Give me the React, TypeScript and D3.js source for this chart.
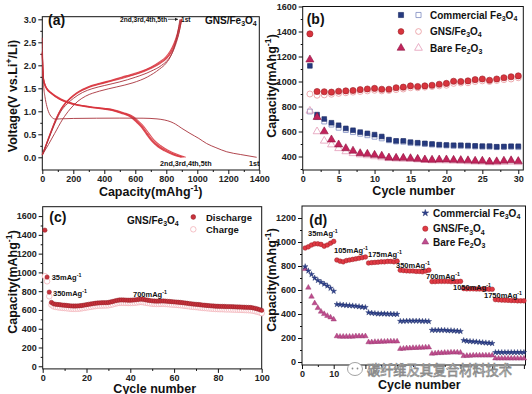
import React, {useEffect, useRef} from 'react';
import * as d3 from 'd3';

type Pt = [number, number];
type Part = [string, number?];
type G = d3.Selection<SVGGElement, unknown, null, undefined>;

const FONT = '"Liberation Sans", Arial, Helvetica, sans-serif';

// ---------- (a) voltage profiles, [capacity mAh/g, voltage V] ----------
const dis1st: Pt[] = [[0, 2.6], [2, 2.2], [5, 1.8], [10, 1.5], [17, 1.32], [30, 1.1], [50, 0.92], [65, 0.86], [82, 0.83], [110, 0.835], [200, 0.845], [350, 0.85], [500, 0.852], [650, 0.85], [740, 0.835], [790, 0.81], [830, 0.77], [860, 0.72], [900, 0.63], [953, 0.52], [1010, 0.41], [1060, 0.3], [1120, 0.21], [1190, 0.12], [1280, 0.06], [1383, 0.0]];
const dis2nd: Pt[] = [[0, 2.3], [3, 1.95], [8, 1.72], [15, 1.61], [30, 1.5], [60, 1.4], [115, 1.28], [200, 1.17], [310, 1.1], [400, 1.065], [460, 1.035], [520, 0.975], [590, 0.88], [622, 0.78], [655, 0.67], [688, 0.52], [720, 0.38], [765, 0.25], [808, 0.16], [865, 0.07], [925, 0.0]];
const dis3rd: Pt[] = [[0, 2.28], [3, 1.93], [8, 1.7], [15, 1.6], [30, 1.49], [60, 1.39], [113, 1.27], [198, 1.165], [305, 1.1], [395, 1.06], [455, 1.03], [515, 0.97], [585, 0.87], [616, 0.77], [648, 0.66], [680, 0.51], [712, 0.37], [756, 0.24], [800, 0.15], [855, 0.06], [912, 0.0]];
const dis4th: Pt[] = [[0, 2.26], [3, 1.92], [8, 1.69], [15, 1.59], [30, 1.48], [60, 1.385], [112, 1.265], [196, 1.16], [302, 1.095], [392, 1.055], [452, 1.025], [512, 0.965], [580, 0.865], [612, 0.765], [644, 0.655], [676, 0.505], [707, 0.365], [750, 0.235], [793, 0.145], [848, 0.06], [903, 0.0]];
const dis5th: Pt[] = [[0, 2.25], [3, 1.91], [8, 1.68], [15, 1.58], [30, 1.475], [60, 1.38], [110, 1.26], [195, 1.155], [300, 1.09], [390, 1.05], [450, 1.02], [508, 0.96], [576, 0.86], [608, 0.76], [640, 0.65], [672, 0.5], [703, 0.36], [745, 0.23], [788, 0.14], [842, 0.055], [896, 0.0]];
const chg1st: Pt[] = [[0, 0.05], [40, 0.28], [80, 0.52], [130, 0.82], [180, 1.05], [230, 1.22], [280, 1.33], [370, 1.44], [480, 1.53], [585, 1.62], [680, 1.75], [757, 1.92], [800, 2.05], [830, 2.21], [855, 2.44], [873, 2.7], [888, 3.0]];
const chg2nd: Pt[] = [[0, 0.06], [30, 0.3], [60, 0.56], [90, 0.8], [120, 1.0], [160, 1.16], [200, 1.28], [260, 1.41], [320, 1.49], [400, 1.56], [500, 1.64], [600, 1.74], [700, 1.87], [770, 2.0], [810, 2.12], [840, 2.28], [865, 2.5], [885, 2.75], [898, 3.0]];
const chg3rd: Pt[] = [[0, 0.05], [30, 0.31], [60, 0.58], [90, 0.83], [120, 1.03], [150, 1.17], [180, 1.27], [220, 1.38], [260, 1.46], [300, 1.52], [370, 1.59], [450, 1.66], [540, 1.74], [620, 1.82], [700, 1.93], [760, 2.04], [800, 2.14], [830, 2.27], [855, 2.44], [875, 2.64], [890, 2.84], [900, 3.0]];
const chg4th: Pt[] = [[0, 0.05], [30, 0.32], [60, 0.59], [90, 0.84], [120, 1.04], [150, 1.18], [180, 1.28], [220, 1.39], [260, 1.47], [300, 1.53], [370, 1.6], [450, 1.67], [540, 1.755], [620, 1.835], [700, 1.945], [760, 2.06], [800, 2.16], [828, 2.29], [852, 2.46], [872, 2.66], [887, 2.86], [897, 3.0]];
const chg5th: Pt[] = [[0, 0.05], [30, 0.33], [60, 0.6], [90, 0.85], [120, 1.05], [150, 1.19], [180, 1.29], [220, 1.4], [260, 1.48], [300, 1.54], [370, 1.61], [450, 1.68], [540, 1.77], [620, 1.85], [700, 1.96], [758, 2.08], [796, 2.18], [825, 2.31], [850, 2.48], [870, 2.68], [885, 2.88], [895, 3.0]];

// ---------- (b) cycling at 35 mA/g, cycles 1..30 ----------
const commDisB = [1125, 735, 700, 670, 650, 625, 610, 595, 585, 575, 560, 535, 525, 525, 515, 510, 505, 500, 495, 492, 490, 490, 488, 485, 483, 483, 478, 480, 482, 482];
const commChgB = [760, 715, 680, 655, 630, 612, 595, 582, 570, 558, 545, 530, 520, 518, 508, 505, 500, 495, 490, 488, 485, 485, 482, 480, 478, 478, 475, 476, 478, 475];
const gnsDisB = [1381, 920, 918, 915, 922, 925, 928, 935, 940, 945, 938, 938, 950, 955, 965, 960, 965, 970, 978, 985, 1002, 1000, 1005, 1015, 1020, 1010, 1020, 1030, 1038, 1045];
const gnsChgB = [900, 890, 893, 898, 905, 910, 915, 920, 925, 930, 925, 928, 935, 940, 950, 950, 955, 960, 965, 970, 985, 988, 990, 1000, 1005, 1000, 1008, 1015, 1020, 1030];
const bareDisB = [1175, 715, 600, 535, 495, 465, 445, 425, 420, 412, 405, 390, 388, 388, 385, 380, 375, 373, 375, 375, 372, 370, 368, 365, 365, 358, 360, 365, 368, 362];
const bareChgB = [765, 600, 525, 495, 465, 440, 425, 415, 408, 400, 392, 385, 382, 380, 378, 375, 370, 368, 368, 367, 365, 363, 360, 358, 357, 352, 352, 355, 357, 353];

// ---------- (c) long cycling, cycles 1..100 ----------
const disC = [
  1450, 950, 790, 680, 665, 660, 658, 655, 652, 650,
  648, 645, 643, 642, 642, 643, 645, 648, 652, 656,
  660, 664, 668, 671, 674, 676, 677, 678, 678, 680,
  685, 690, 697, 702, 706, 707, 706, 705, 704, 704,
  705, 707, 710, 713, 715, 712, 708, 704, 700, 697,
  695, 694, 694, 695, 696, 694, 692, 690, 688, 686,
  684, 682, 680, 677, 674, 671, 668, 665, 662, 660,
  658, 655, 652, 650, 648, 646, 644, 642, 640, 639,
  638, 638, 637, 636, 636, 635, 634, 633, 632, 631,
  630, 629, 628, 627, 626, 622, 617, 611, 604, 596,
];
const chgC = [
  960, 905, 745, 655, 638, 632, 628, 625, 622, 620,
  618, 615, 613, 612, 612, 613, 615, 618, 622, 626,
  630, 634, 638, 641, 644, 646, 647, 648, 648, 650,
  655, 660, 667, 672, 676, 677, 676, 675, 674, 674,
  675, 677, 680, 683, 685, 682, 678, 674, 670, 667,
  665, 664, 664, 665, 666, 664, 662, 660, 658, 656,
  654, 652, 650, 647, 644, 641, 638, 635, 632, 630,
  628, 625, 622, 620, 618, 616, 614, 612, 610, 609,
  608, 608, 607, 606, 606, 605, 604, 603, 602, 601,
  600, 599, 598, 597, 596, 592, 587, 581, 574, 566,
];

// ---------- (d) rate test, cycles 1..70 ----------
const commD = [
  795, 760, 730, 700, 680, 665, 650, 635, 615, 590,
  480, 478, 475, 472, 470, 468, 465, 462, 458, 455,
  412, 408, 405, 402, 402, 402, 400, 400, 398, 398,
  340, 340, 342, 342, 342, 342, 342, 340, 340, 338,
  265, 265, 265, 265, 265, 262, 262, 260, 258, 255,
  180, 175, 172, 170, 168, 165, 162, 160, 158, 155,
  80, 80, 80, 80, 80, 80, 80, 80, 80, 80,
];
const gnsD = [
  950, 960, 975, 985, 985, 980, 965, 975, 990, 1005,
  850, 840, 835, 845, 850, 855, 860, 865, 870, 875,
  825, 828, 830, 832, 835, 835, 838, 838, 835, 840,
  765, 762, 760, 758, 758, 755, 755, 752, 758, 765,
  670, 670, 672, 672, 672, 672, 670, 670, 670, 672,
  612, 610, 610, 610, 608, 608, 608, 608, 606, 606,
  520, 518, 516, 515, 514, 512, 512, 510, 510, 510,
];
const bareD = [
  775, 620, 545, 490, 450, 420, 400, 385, 372, 355,
  215, 212, 212, 212, 212, 212, 215, 215, 215, 215,
  165, 165, 168, 168, 170, 170, 172, 172, 172, 172,
  110, 112, 115, 115, 118, 118, 120, 120, 122, 122,
  70, 72, 75, 75, 78, 78, 80, 80, 80, 78,
  50, 52, 52, 55, 55, 55, 55, 55, 55, 55,
  30, 30, 30, 30, 30, 30, 30, 30, 30, 30,
];
const rateLabelsD = ['35', '105', '175', '350', '700', '1050', '1750'];

const capTitle: Part[] = [['Capacity(mAhg'], ['-1', 1], [')']];
const gnsName: Part[] = [['GNS/Fe'], ['3', -1], ['O'], ['4', -1]];
const commName: Part[] = [['Commercial Fe'], ['3', -1], ['O'], ['4', -1]];
const bareName: Part[] = [['Bare Fe'], ['2', -1], ['O'], ['3', -1]];

const RED = '#d8343d';
const RED_DARK = '#9a1c25';
const RED_OPEN = '#e8959a';
const NAVY = '#263a80';
const NAVY_OPEN = '#7d8cc0';
const MAG = '#c2245c';
const MAG_OPEN = '#e39ab8';
const VIOLET = '#bf4d8e';

function label(g: G, x: number, y: number, parts: Part[], fs: number, anchor = 'start', rotate = 0) {
  const t = g
    .append('text')
    .attr('x', x)
    .attr('y', y)
    .attr('font-family', FONT)
    .attr('font-weight', 'bold')
    .attr('font-size', fs)
    .attr('fill', '#111')
    .attr('text-anchor', anchor);
  if (rotate) t.attr('transform', `rotate(${rotate},${x},${y})`);
  let cur = 0;
  parts.forEach(([s, k = 0]) => {
    const target = k > 0 ? -0.4 * fs : k < 0 ? 0.22 * fs : 0;
    t.append('tspan')
      .attr('dy', target - cur)
      .attr('font-size', k ? fs * 0.7 : fs)
      .text(s);
    cur = target;
  });
  return t;
}

function axes(
  g: G,
  x: d3.ScaleLinear<number, number>,
  y: d3.ScaleLinear<number, number>,
  xMajor: number[],
  xMinor: number[],
  yMajor: number[],
  yMinor: number[],
  xFmt: (d: number) => string,
  yFmt: (d: number) => string,
) {
  const [xl, xr] = x.range();
  const [yb, yt] = y.range();
  const style = (a: G) => {
    a.select('.domain').remove();
    a.selectAll('line').attr('stroke', '#111').attr('stroke-width', 1);
    a.selectAll('text')
      .attr('font-family', FONT)
      .attr('font-weight', 'bold')
      .attr('font-size', 9)
      .attr('fill', '#222');
  };
  g.append('g')
    .attr('transform', `translate(0,${yb})`)
    .call(d3.axisBottom(x).tickValues(xMinor).tickSize(2).tickFormat(() => ''))
    .call(style);
  g.append('g')
    .attr('transform', `translate(0,${yb})`)
    .call(d3.axisBottom(x).tickValues(xMajor).tickSize(4).tickPadding(1.5).tickFormat((d) => xFmt(+d)))
    .call(style);
  g.append('g')
    .attr('transform', `translate(${xl},0)`)
    .call(d3.axisLeft(y).tickValues(yMinor).tickSize(2).tickFormat(() => ''))
    .call(style);
  g.append('g')
    .attr('transform', `translate(${xl},0)`)
    .call(d3.axisLeft(y).tickValues(yMajor).tickSize(4).tickPadding(2).tickFormat((d) => yFmt(+d)))
    .call(style);
  g.append('rect')
    .attr('x', xl)
    .attr('y', yt)
    .attr('width', xr - xl)
    .attr('height', yb - yt)
    .attr('fill', 'none')
    .attr('stroke', '#111')
    .attr('stroke-width', 1);
}

function marks(
  g: G,
  vals: number[],
  x: d3.ScaleLinear<number, number>,
  y: d3.ScaleLinear<number, number>,
  type: d3.SymbolType,
  size: number,
  fill: string,
  stroke: string,
  sw = 0.6,
) {
  const d = d3.symbol().type(type).size(size)() as string;
  g.append('g')
    .selectAll('path')
    .data(vals)
    .join('path')
    .attr('d', d)
    .attr('transform', (v, i) => `translate(${x(i + 1)},${y(v)})`)
    .attr('fill', fill)
    .attr('stroke', stroke)
    .attr('stroke-width', sw);
}

function legendMark(g: G, cx: number, cy: number, type: d3.SymbolType, size: number, fill: string, stroke: string, sw = 0.6) {
  g.append('path')
    .attr('d', d3.symbol().type(type).size(size)() as string)
    .attr('transform', `translate(${cx},${cy})`)
    .attr('fill', fill)
    .attr('stroke', stroke)
    .attr('stroke-width', sw);
}

const fmtInt = d3.format('d');
const fmt1 = d3.format('.1f');

function drawA(g: G) {
  const x = d3.scaleLinear().domain([0, 1400]).range([42.3, 259.3]);
  const y = d3.scaleLinear().domain([-0.276, 3.057]).range([170, 16.7]);
  axes(g, x, y, d3.range(0, 1401, 200), d3.range(100, 1400, 200), d3.range(0, 3.01, 0.5), d3.range(0.25, 3, 0.5), fmtInt, fmt1);
  const line = d3
    .line<Pt>()
    .x((d) => x(d[0]))
    .y((d) => y(d[1]))
    .curve(d3.curveMonotoneX);
  const thin = [dis1st, chg1st, chg2nd];
  const bundle = [dis2nd, dis3rd, dis4th, dis5th, chg3rd, chg4th, chg5th];
  g.append('g')
    .selectAll('path')
    .data(bundle)
    .join('path')
    .attr('d', (d) => line(d))
    .attr('fill', 'none')
    .attr('stroke', RED)
    .attr('stroke-width', 1.1)
    .attr('opacity', 0.85);
  g.append('g')
    .selectAll('path')
    .data(thin)
    .join('path')
    .attr('d', (d) => line(d))
    .attr('fill', 'none')
    .attr('stroke', '#a8323b')
    .attr('stroke-width', 0.9);

  label(g, 48, 24.5, [['(a)']], 14);
  label(g, 205, 23.5, gnsName, 10);
  label(g, 120, 21.5, [['2nd,3rd,4th,5th']], 6.6);
  g.append('line').attr('x1', 168).attr('x2', 178).attr('y1', 19.3).attr('y2', 19.3).attr('stroke', '#222').attr('stroke-width', 0.7);
  g.append('path').attr('d', 'M178,19.3 l-3,-1.6 v3.2 z').attr('fill', '#222');
  label(g, 181, 21.5, [['1st']], 6.6);
  label(g, 160, 165.8, [['2nd,3rd,4th,5th']], 7.2);
  label(g, 249, 165.8, [['1st']], 7.2);

  label(g, 17, 96, [['Voltage(V vs.Li'], ['+', 1], ['/Li)']], 12.5, 'middle', -90);
  label(g, 150.7, 196, capTitle, 12.5, 'middle');
}

function drawB(g: G) {
  const x = d3.scaleLinear().domain([0, 30.7]).range([302.7, 523.3]);
  const y = d3.scaleLinear().domain([292, 1600]).range([170, 6.5]);
  axes(g, x, y, d3.range(0, 31, 5), d3.range(2.5, 30, 5), d3.range(400, 1601, 200), d3.range(300, 1600, 200), fmtInt, fmtInt);
  marks(g, commChgB, x, y, d3.symbolSquare, 24, 'none', NAVY_OPEN, 0.8);
  marks(g, bareChgB, x, y, d3.symbolTriangle, 26, 'none', MAG_OPEN, 0.8);
  marks(g, gnsChgB, x, y, d3.symbolCircle, 28, 'none', RED_OPEN, 0.8);
  marks(g, commDisB, x, y, d3.symbolSquare, 22, NAVY, '#1a2860');
  marks(g, bareDisB, x, y, d3.symbolTriangle, 28, MAG, '#8e1440');
  marks(g, gnsDisB, x, y, d3.symbolCircle, 30, RED, RED_DARK);

  const rows: [number, d3.SymbolType, string, string, string, Part[]][] = [
    [15, d3.symbolSquare, NAVY, '#1a2860', NAVY_OPEN, commName],
    [31.5, d3.symbolCircle, RED, RED_DARK, RED_OPEN, gnsName],
    [48, d3.symbolTriangle, MAG, '#8e1440', MAG_OPEN, bareName],
  ];
  rows.forEach(([ry, type, f, s, o, name]) => {
    legendMark(g, 401, ry, type, 26, f, s);
    legendMark(g, 418.5, ry, type, 26, 'none', o, 0.8);
    label(g, 430, ry + 3.6, name, 10);
  });
  label(g, 306.7, 24, [['(b)']], 14);
  label(g, 276, 86, capTitle, 12.5, 'middle', -90);
  label(g, 413.7, 195, [['Cycle number']], 12.5, 'middle');
}

function drawC(g: G) {
  const x = d3.scaleLinear().domain([0, 100]).range([42.7, 261.7]);
  const y = d3.scaleLinear().domain([-28, 1700]).range([368.9, 206.7]);
  axes(g, x, y, d3.range(0, 101, 20), d3.range(10, 100, 20), d3.range(0, 1601, 200), d3.range(100, 1700, 200), fmtInt, fmtInt);
  marks(g, chgC, x, y, d3.symbolCircle, 24, '#fff', '#f2b1b7', 0.8);
  marks(g, disC, x, y, d3.symbolCircle, 15, '#c8323c', '#8e1c24', 0.5);

  label(g, 49.3, 222, [['(c)']], 14);
  label(g, 127, 223.5, gnsName, 10);
  legendMark(g, 193.3, 217, d3.symbolCircle, 18, '#c8323c', '#8e1c24', 0.5);
  legendMark(g, 193.3, 229.3, d3.symbolCircle, 24, '#fff', '#f2b1b7', 0.8);
  label(g, 206, 220.5, [['Discharge']], 9.5);
  label(g, 206, 233, [['Charge']], 9.5);
  label(g, 51.7, 279.7, [['35mAg'], ['-1', 1]], 7.5);
  label(g, 53, 296.4, [['350mAg'], ['-1', 1]], 7.5);
  label(g, 133, 296.7, [['700mAg'], ['-1', 1]], 7.5);

  label(g, 17, 282, capTitle, 12.5, 'middle', -90);
  label(g, 154.7, 392.5, [['Cycle number']], 12.5, 'middle');
}

function drawD(g: G) {
  const x = d3.scaleLinear().domain([0, 70.5]).range([302, 525.5]);
  const y = d3.scaleLinear().domain([-25, 1300]).range([365, 206]);
  // tick labels past 10 sit under the watermark in the source, so only 0 and 10 are printed
  axes(g, x, y, d3.range(0, 71, 10), d3.range(5, 70, 10), d3.range(0, 1201, 200), d3.range(100, 1300, 200), (d) => (d <= 10 ? fmtInt(d) : ''), fmtInt);
  marks(g, bareD, x, y, d3.symbolTriangle, 13, VIOLET, '#8f2f68', 0.4);
  marks(g, commD, x, y, d3.symbolStar, 10, '#2e418e', '#1d2b66', 0.4);
  marks(g, gnsD, x, y, d3.symbolCircle, 17, '#e03a44', RED_DARK, 0.5);

  const rows: [number, d3.SymbolType, number, string, string, Part[]][] = [
    [213, d3.symbolStar, 14, '#2e418e', '#1d2b66', commName],
    [228.7, d3.symbolCircle, 22, '#e03a44', RED_DARK, gnsName],
    [242, d3.symbolTriangle, 20, VIOLET, '#8f2f68', bareName],
  ];
  rows.forEach(([ry, type, sz, f, s, name]) => {
    legendMark(g, 425.3, ry, type, sz, f, s, 0.5);
    label(g, 433, ry + 3.6, name, 10);
  });
  const rateAt: Pt[] = [[308, 236.3], [334, 253], [368, 257], [396, 268], [426, 278.7], [453, 290.4], [484, 298.4]];
  rateLabelsD.forEach((r, i) => {
    label(g, rateAt[i][0], rateAt[i][1], [[`${r}mAg`], ['-1', 1]], 7.5);
  });
  label(g, 309.3, 225, [['(d)']], 14);
  label(g, 276, 280, capTitle, 12.5, 'middle', -90);

  // watermark
  const wm = g.append('g');
  wm.append('text')
    .attr('x', 367)
    .attr('y', 374.5)
    .attr('font-family', '"Noto Sans CJK SC", sans-serif')
    .attr('font-size', 13.2)
    .attr('fill', '#fff')
    .attr('stroke', '#8c8c8c')
    .attr('stroke-width', 0.8)
    .text('碳纤维及其复合材料技术');
  wm.append('ellipse').attr('cx', 355).attr('cy', 369).attr('rx', 7.5).attr('ry', 6.5).attr('fill', '#fff').attr('stroke', '#8c8c8c').attr('stroke-width', 0.8);
  wm.append('circle').attr('cx', 352.5).attr('cy', 368.5).attr('r', 0.9).attr('fill', '#8c8c8c');
  wm.append('circle').attr('cx', 357.5).attr('cy', 368.5).attr('r', 0.9).attr('fill', '#8c8c8c');

  label(g, 419.3, 389, [['Cycle number']], 12.5, 'middle');
}

export default function App() {
  const svgRef = useRef<SVGSVGElement>(null);
  useEffect(() => {
    if (!svgRef.current) return;
    const svg = d3.select(svgRef.current);
    svg.selectAll('*').remove();
    drawA(svg.append('g'));
    drawB(svg.append('g'));
    drawC(svg.append('g'));
    drawD(svg.append('g'));
  }, []);
  return (
    <svg
      ref={svgRef}
      width={532}
      height={394}
      style={{position: 'absolute', left: 0, top: 0, background: '#fff'}}
    />
  );
}
